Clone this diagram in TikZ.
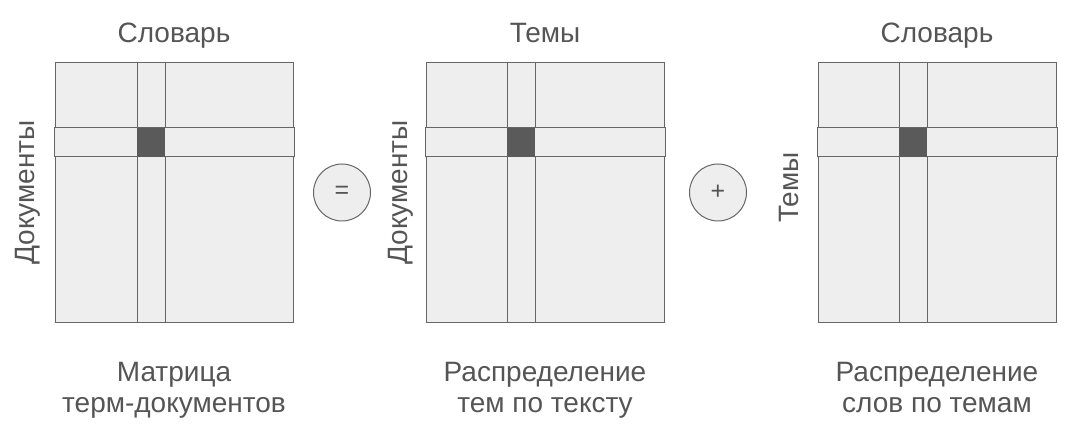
\documentclass[tikz,border=0pt]{standalone}
\usepackage{fontspec}
\setmainfont{Liberation Sans}
\usetikzlibrary{positioning}
\definecolor{txtgray}{HTML}{555555}
\definecolor{linegray}{HTML}{666666}
\definecolor{cellfill}{HTML}{EEEEEE}
\definecolor{darkcell}{HTML}{5A5A5A}

\begin{document}
\begin{tikzpicture}[x=1pt, y=-1pt, text=txtgray,
    font=\fontsize{28}{31}\selectfont,
    mat/.style={draw=linegray, fill=cellfill, line width=1pt, inner sep=0pt,
        minimum width=238pt, minimum height=259pt},
    col/.style={draw=linegray, fill=cellfill, line width=1pt, inner sep=0pt,
        minimum width=28pt, minimum height=259pt},
    row/.style={draw=linegray, fill=cellfill, line width=1pt, inner sep=0pt,
        minimum width=240pt, minimum height=29pt},
    hit/.style={fill=darkcell, inner sep=0pt, minimum width=28pt, minimum height=29pt},
    lbl/.style={inner sep=0pt, text depth=0pt},
    title/.style={inner sep=0pt, align=center},
    op/.style={circle, draw=linegray, fill=cellfill, line width=1pt, inner sep=0pt,
        minimum size=57pt, font=\fontsize{25}{28}\selectfont}]
    \useasboundingbox (0,0) rectangle (1076,430);

    % term-document matrix
    \node[mat] (docs) at (174,192.5) {};
    \node[col] (docscol) at (151,192.5) {};
    \node[row] (docsrow) at (174,142.5) {};
    \node[hit] (docshit) at (docscol |- docsrow) {};
    \node[lbl, above=20pt of docs] (docstop) {Словарь};
    \node[lbl, left=20pt of docs, anchor=south, rotate=90] (docsleft) {Документы};
    \node[title, below=40pt of docs] (docsname) {Матрица\\терм-документов};

    \node[op, right=19.5pt of docs] (eq) {=};

    % topics by document
    \node[mat] (theta) at (545,192.5) {};
    \node[col] (thetacol) at (521,192.5) {};
    \node[row] (thetarow) at (545,142.5) {};
    \node[hit] (thetahit) at (thetacol |- thetarow) {};
    \node[lbl, above=20pt of theta] (thetatop) {Темы};
    \node[lbl, left=18pt of theta, anchor=south, rotate=90] (thetaleft) {Документы};
    \node[title, below=40pt of theta] (thetaname) {Распределение\\тем по тексту};

    \node[op, right=24.5pt of theta] (plus) {+};

    % words by topic
    \node[mat] (phi) at (937,192.5) {};
    \node[col] (phicol) at (913,192.5) {};
    \node[row] (phirow) at (937,142.5) {};
    \node[hit] (phihit) at (phicol |- phirow) {};
    \node[lbl, above=20pt of phi] (phitop) {Словарь};
    \node[lbl, left=19pt of phi, anchor=south, rotate=90, xshift=5pt] (phileft) {Темы};
    \node[title, below=40pt of phi] (phiname) {Распределение\\слов по темам};
\end{tikzpicture}
\end{document}
